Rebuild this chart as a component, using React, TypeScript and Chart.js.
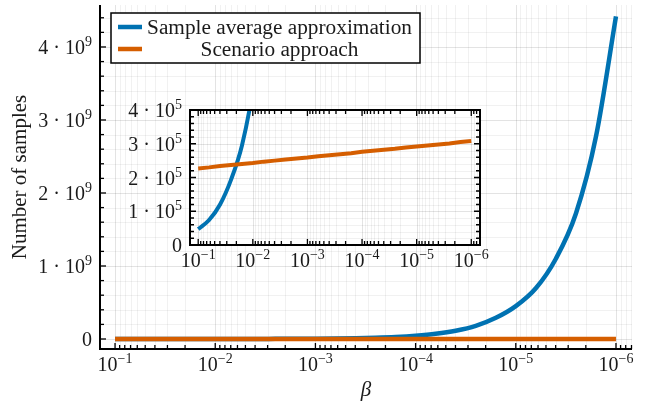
import React, { useEffect, useRef } from "react";
import { Chart, registerables } from "chart.js";
Chart.register(...registerables);

// ---------------- data ----------------
const betas = [
  1e-1, 6.31e-2, 3.98e-2, 2.51e-2, 1.58e-2,
  1e-2, 6.31e-3, 3.98e-3, 2.51e-3, 1.58e-3,
  1e-3, 6.31e-4, 3.98e-4, 2.51e-4, 1.58e-4,
  1e-4, 6.31e-5, 3.98e-5, 2.51e-5, 1.58e-5,
  1e-5, 6.31e-6, 3.98e-6, 2.51e-6, 1.58e-6,
  1e-6,
];
const saaSamples = [
  4.7e4, 7.4e4, 1.2e5, 1.93e5, 2.95e5,
  4.6e5, 7.2e5, 1.14e6, 1.8e6, 2.85e6,
  4.5e6, 7.1e6, 1.13e7, 1.78e7, 2.82e7,
  4.5e7, 7.1e7, 1.13e8, 1.8e8, 2.9e8,
  4.5e8, 6.95e8, 1.1e9, 1.72e9, 2.78e9,
  4.42e9,
];
const scenarioSamples = [
  2.27e5, 2.3e5, 2.34e5, 2.37e5, 2.4e5,
  2.43e5, 2.47e5, 2.5e5, 2.53e5, 2.56e5,
  2.59e5, 2.63e5, 2.66e5, 2.69e5, 2.72e5,
  2.76e5, 2.79e5, 2.82e5, 2.85e5, 2.89e5,
  2.92e5, 2.95e5, 2.98e5, 3.01e5, 3.05e5,
  3.08e5,
];
const seriesNames = ["Sample average approximation", "Scenario approach"];
const seriesColors = ["#0072B2", "#D55E00"];

const xTickValues = [1e-1, 1e-2, 1e-3, 1e-4, 1e-5, 1e-6];
const xTickExps = ["\u22121", "\u22122", "\u22123", "\u22124", "\u22125", "\u22126"];
const mainYTickValues = [0, 1e9, 2e9, 3e9, 4e9];
const mainYTickBases = ["0", "1 \u00b7 10", "2 \u00b7 10", "3 \u00b7 10", "4 \u00b7 10"];
const mainYTickExps = ["", "9", "9", "9", "9"];
const insetYTickValues = [0, 1e5, 2e5, 3e5, 4e5];
const insetYTickBases = ["0", "1 \u00b7 10", "2 \u00b7 10", "3 \u00b7 10", "4 \u00b7 10"];
const insetYTickExps = ["", "5", "5", "5", "5"];
const xTitle = "\u03b2";
const yTitle = "Number of samples";

const FONT = "'Liberation Serif', 'DejaVu Serif', serif";
const X_MIN = 6.92e-7;
const X_MAX = 0.1413;

function minorLog(): number[] {
  const out: number[] = [];
  for (let e = -7; e <= -1; e++) {
    for (let m = 2; m <= 9; m++) {
      const v = m * Math.pow(10, e);
      if (v > X_MIN && v < X_MAX) out.push(v);
    }
  }
  return out;
}
function minorLinear(lo: number, hi: number, step: number, majors: number[]): number[] {
  const out: number[] = [];
  for (let v = Math.ceil(lo / step) * step; v <= hi + 1e-9 * step; v += step) {
    const r = Math.round(v / step) * step;
    if (!majors.some((m) => Math.abs(m - r) < step * 0.01)) out.push(r);
  }
  return out;
}

function drawPow(
  ctx: CanvasRenderingContext2D,
  base: string,
  exp: string,
  x: number,
  y: number,
  align: "center" | "right",
  size: number,
  supSize: number,
  rise: number
) {
  ctx.textAlign = "left";
  ctx.textBaseline = "alphabetic";
  ctx.font = `${size}px ${FONT}`;
  const wb = ctx.measureText(base).width;
  ctx.font = `${supSize}px ${FONT}`;
  const we = exp ? ctx.measureText(exp).width : 0;
  const tot = wb + we;
  const x0 = align === "center" ? x - tot / 2 : x - tot;
  ctx.font = `${size}px ${FONT}`;
  ctx.fillText(base, x0, y);
  if (exp) {
    ctx.font = `${supSize}px ${FONT}`;
    ctx.fillText(exp, x0 + wb, y - rise);
  }
}

type AxCfg = {
  inset: boolean;
  yMajor: number[];
  yMinor: number[];
  yBases: string[];
  yExps: string[];
};

function makePlugin(cfg: AxCfg) {
  return {
    id: "juliaAxes",
    beforeDraw(chart: any) {
      const { ctx, chartArea: a } = chart;
      if (cfg.inset) {
        ctx.save();
        ctx.fillStyle = "#ffffff";
        ctx.fillRect(a.left, a.top, a.right - a.left, a.bottom - a.top);
        ctx.restore();
      }
    },
    beforeDatasetsDraw(chart: any) {
      const { ctx, chartArea: a, scales } = chart;
      const xs = scales.x, ys = scales.y;
      const xMinor = minorLog();
      ctx.save();
      ctx.lineWidth = 1;
      const vline = (v: number, c: string) => {
        const px = Math.round(xs.getPixelForValue(v)) + 0.5;
        ctx.strokeStyle = c;
        ctx.beginPath();
        ctx.moveTo(px, a.top);
        ctx.lineTo(px, a.bottom);
        ctx.stroke();
      };
      const hline = (v: number, c: string) => {
        const py = Math.round(ys.getPixelForValue(v)) + 0.5;
        ctx.strokeStyle = c;
        ctx.beginPath();
        ctx.moveTo(a.left, py);
        ctx.lineTo(a.right, py);
        ctx.stroke();
      };
      const minorC = "rgba(0,0,0,0.055)";
      const majorC = "rgba(0,0,0,0.11)";
      xMinor.forEach((v) => vline(v, minorC));
      cfg.yMinor.forEach((v) => hline(v, minorC));
      xTickValues.forEach((v) => vline(v, majorC));
      cfg.yMajor.forEach((v) => hline(v, majorC));
      ctx.restore();
    },
    afterDatasetsDraw(chart: any) {
      const { ctx, chartArea: a, scales } = chart;
      const xs = scales.x, ys = scales.y;
      const xMinor = minorLog();
      ctx.save();
      ctx.strokeStyle = "#000";
      ctx.lineWidth = 2;
      // axes / frame
      ctx.beginPath();
      if (cfg.inset) {
        ctx.rect(a.left, a.top, a.right - a.left, a.bottom - a.top);
      } else {
        ctx.moveTo(a.left, a.top);
        ctx.lineTo(a.left, a.bottom);
        ctx.lineTo(a.right, a.bottom);
      }
      ctx.stroke();
      // ticks
      const majL = 6;
      const minL = 4;
      ctx.lineWidth = 1.3;
      const xtick = (v: number, len: number) => {
        const px = xs.getPixelForValue(v);
        ctx.beginPath();
        ctx.moveTo(px, a.bottom);
        ctx.lineTo(px, a.bottom - len);
        if (cfg.inset) {
          ctx.moveTo(px, a.top);
          ctx.lineTo(px, a.top + len);
        }
        ctx.stroke();
      };
      const ytick = (v: number, len: number) => {
        const py = ys.getPixelForValue(v);
        ctx.beginPath();
        ctx.moveTo(a.left, py);
        ctx.lineTo(a.left + len, py);
        if (cfg.inset) {
          ctx.moveTo(a.right, py);
          ctx.lineTo(a.right - len, py);
        }
        ctx.stroke();
      };
      xMinor.forEach((v) => xtick(v, minL));
      xTickValues.forEach((v) => xtick(v, majL));
      cfg.yMinor.forEach((v) => ytick(v, minL));
      cfg.yMajor.forEach((v) => ytick(v, majL));
      // tick labels
      ctx.fillStyle = "#1a1a1a";
      const size = 20;
      const sup = 14;
      xTickValues.forEach((v, i) => {
        drawPow(ctx, "10", xTickExps[i], xs.getPixelForValue(v), a.bottom + 22, "center", size, sup, 8);
      });
      cfg.yMajor.forEach((v, i) => {
        drawPow(ctx, cfg.yBases[i], cfg.yExps[i], a.left - 8, ys.getPixelForValue(v) + 7, "right", size, sup, 8);
      });
      if (!cfg.inset) {
        // axis titles
        ctx.font = `italic 21px ${FONT}`;
        ctx.textAlign = "center";
        ctx.textBaseline = "alphabetic";
        ctx.fillText(xTitle, (a.left + a.right) / 2, 396);
        ctx.save();
        ctx.translate(26, (a.top + a.bottom) / 2);
        ctx.rotate(-Math.PI / 2);
        ctx.font = `21px ${FONT}`;
        ctx.fillText(yTitle, 0, 0);
        ctx.restore();
        // legend
        const lx = 111, ly = 13, lw = 309, lh = 50;
        ctx.fillStyle = "#fff";
        ctx.fillRect(lx, ly, lw, lh);
        ctx.strokeStyle = "#000";
        ctx.lineWidth = 1.5;
        ctx.strokeRect(lx, ly, lw, lh);
        const rows = [27, 49];
        seriesNames.forEach((name, i) => {
          ctx.strokeStyle = seriesColors[i];
          ctx.lineWidth = 4.5;
          ctx.beginPath();
          ctx.moveTo(118, rows[i]);
          ctx.lineTo(142, rows[i]);
          ctx.stroke();
          ctx.fillStyle = "#1a1a1a";
          ctx.font = `21.3px ${FONT}`;
          ctx.textAlign = "center";
          ctx.fillText(name, 279.5, rows[i] + 6.5);
        });
      }
      ctx.restore();
    },
  };
}

function makeConfig(inset: boolean): any {
  const yMajor = inset ? insetYTickValues : mainYTickValues;
  const yMin = inset ? 0 : -0.137e9;
  const yMax = inset ? 4e5 : 4.575e9;
  const yMinor = inset
    ? minorLinear(0, 4e5, 0.2e5, insetYTickValues)
    : minorLinear(yMin, yMax, 0.2e9, mainYTickValues);
  const lw = inset ? 4 : 4.5;
  return {
    type: "line",
    data: {
      labels: betas,
      datasets: [
        {
          label: seriesNames[0],
          data: betas.map((b, i) => ({ x: b, y: saaSamples[i] })),
          borderColor: seriesColors[0],
          borderWidth: lw,
          pointRadius: 0,
          cubicInterpolationMode: "monotone",
          clip: 0,
          order: 1,
        },
        {
          label: seriesNames[1],
          data: betas.map((b, i) => ({ x: b, y: scenarioSamples[i] })),
          borderColor: seriesColors[1],
          borderWidth: lw,
          pointRadius: 0,
          clip: 0,
          order: 0,
        },
      ],
    },
    options: {
      animation: false,
      responsive: false,
      events: [],
      layout: inset
        ? { padding: { left: 70, right: 20, top: 14, bottom: 35 } }
        : { padding: { left: 100, right: 13, top: 5, bottom: 53 } },
      plugins: { legend: { display: false }, tooltip: { enabled: false }, title: { display: false } },
      scales: {
        x: { type: "logarithmic", reverse: true, min: X_MIN, max: X_MAX, bounds: "data", display: false },
        y: { type: "linear", min: yMin, max: yMax, bounds: "data", display: false },
      },
    },
    plugins: [
      makePlugin({
        inset,
        yMajor,
        yMinor,
        yBases: inset ? insetYTickBases : mainYTickBases,
        yExps: inset ? insetYTickExps : mainYTickExps,
      }),
    ],
  };
}

export default function App() {
  const mainRef = useRef<HTMLCanvasElement>(null);
  const insetRef = useRef<HTMLCanvasElement>(null);
  useEffect(() => {
    const c1 = new Chart(mainRef.current as HTMLCanvasElement, makeConfig(false));
    const c2 = new Chart(insetRef.current as HTMLCanvasElement, makeConfig(true));
    return () => {
      c1.destroy();
      c2.destroy();
    };
  }, []);
  return (
    <div style={{ position: "fixed", left: 0, top: 0, width: 645, height: 402, background: "#fff" }}>
      <canvas
        ref={mainRef}
        width={645}
        height={402}
        style={{ position: "absolute", left: 0, top: 0, width: 645, height: 402 }}
      />
      <canvas
        ref={insetRef}
        width={380}
        height={184}
        style={{ position: "absolute", left: 120, top: 96, width: 380, height: 184 }}
      />
    </div>
  );
}
